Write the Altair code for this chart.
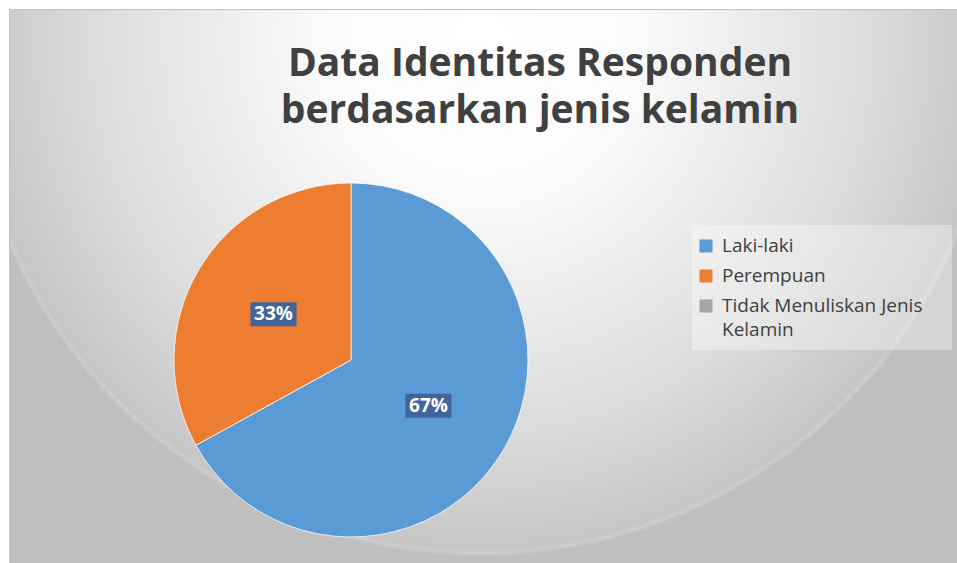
import altair as alt
import pandas as pd

# ---- data ----
categories = ["Laki-laki", "Perempuan", "Tidak Menuliskan Jenis Kelamin"]
values = [67, 33, 0]
colors = ["#5b9bd5", "#ed7d31", "#a5a5a5"]
legend_labels = ["Laki-laki", "Perempuan", "Tidak Menuliskan Jenis\nKelamin"]
title_text = "Data Identitas Responden\nberdasarkan jenis kelamin"

pie_df = pd.DataFrame({"category": categories, "value": values,
                       "order": list(range(len(categories)))})
legend_df = pd.DataFrame({"category": categories, "label": legend_labels,
                          "row": list(range(len(categories)))})
one = pd.DataFrame({"title": [title_text]})

FONT = "Open Sans"
CX, CY, R = 351, 360, 177
color_scale = alt.Scale(domain=categories, range=colors)

# radial gradient: circle centred near (482, 40) px, radius ~515 px
gradient = {
    "gradient": "radial",
    "x1": 0.489, "y1": 0.236, "r1": 0,
    "x2": 0.489, "y2": 0.236, "r2": 0.535,
    "stops": [
        {"offset": 0.0, "color": "#ffffff"},
        {"offset": 0.3, "color": "#fbfbfb"},
        {"offset": 0.75, "color": "#dcdcdc"},
        {"offset": 0.985, "color": "#c6c6c6"},
        {"offset": 0.993, "color": "#cdcdcd"},
        {"offset": 1.0, "color": "#bfbfbf"},
    ],
}

background = alt.Chart(one).mark_rect(fill=gradient, stroke="#c2c2c2", strokeWidth=1).encode(
    x=alt.value(9.5), x2=alt.value(975), y=alt.value(9.5), y2=alt.value(580)
)

title = alt.Chart(one).mark_text(
    align="center", baseline="alphabetic", fontSize=39, fontWeight="bold",
    font=FONT, color="#404040", lineBreak="\n", lineHeight=47
).encode(x=alt.value(540), y=alt.value(76), text="title:N")

arcs = alt.Chart(pie_df).transform_filter("datum.value > 0").mark_arc(
    outerRadius=R, stroke="#ffffff", strokeWidth=0.75
).encode(
    theta=alt.Theta("value:Q", stack=True),
    color=alt.Color("category:N", scale=color_scale, legend=None),
    order=alt.Order("order:Q"),
    x=alt.value(CX), y=alt.value(CY),
)

lab_base = alt.Chart(pie_df).transform_filter("datum.value > 0").transform_joinaggregate(
    total="sum(value)"
).transform_window(
    cum="sum(value)", sort=[alt.SortField("order")], frame=[None, 0]
).transform_calculate(
    mid="(datum.cum - datum.value / 2) / datum.total * 2 * PI",
    lx=f"{CX} + 90 * sin(datum.mid)",
    ly=f"{CY} - 90 * cos(datum.mid)",
    pct="format(datum.value / datum.total, '.0%')",
).transform_calculate(
    bx1="datum.lx - 23", bx2="datum.lx + 23",
    by1="datum.ly - 12", by2="datum.ly + 12",
)

lab_box = lab_base.mark_rect(color="#41649a").encode(
    x=alt.X("bx1:Q", scale=None), x2="bx2:Q",
    y=alt.Y("by1:Q", scale=None), y2="by2:Q",
)
lab_text = lab_base.mark_text(
    fontSize=19, fontWeight="bold", font=FONT, color="#ffffff", baseline="middle"
).encode(
    x=alt.X("lx:Q", scale=None), y=alt.Y("ly:Q", scale=None), text="pct:N"
)

legend_box = alt.Chart(one).mark_rect(fill="#ffffff", opacity=0.35).encode(
    x=alt.value(692), x2=alt.value(952), y=alt.value(225), y2=alt.value(350)
)

leg_base = alt.Chart(legend_df).transform_calculate(
    sy="246 + 30 * datum.row", ty="252 + 30 * datum.row"
)
leg_sq = leg_base.mark_square(size=169, opacity=1, filled=True).encode(
    x=alt.value(706), y=alt.Y("sy:Q", scale=None),
    color=alt.Color("category:N", scale=color_scale, legend=None),
)
leg_txt = leg_base.mark_text(
    align="left", baseline="alphabetic", fontSize=19, font=FONT,
    color="#404040", lineBreak="\n", lineHeight=24
).encode(
    x=alt.value(722), y=alt.Y("ty:Q", scale=None), text="label:N"
)

chart = alt.layer(
    background, title, arcs, lab_box, lab_text, legend_box, leg_sq, leg_txt
).properties(
    width=957, height=563, autosize=alt.AutoSizeParams(type="none"), padding=0,
    background="#ffffff"
).configure_view(stroke=None)

chart.save("out.html", embed_options={"renderer": "svg", "actions": False})
